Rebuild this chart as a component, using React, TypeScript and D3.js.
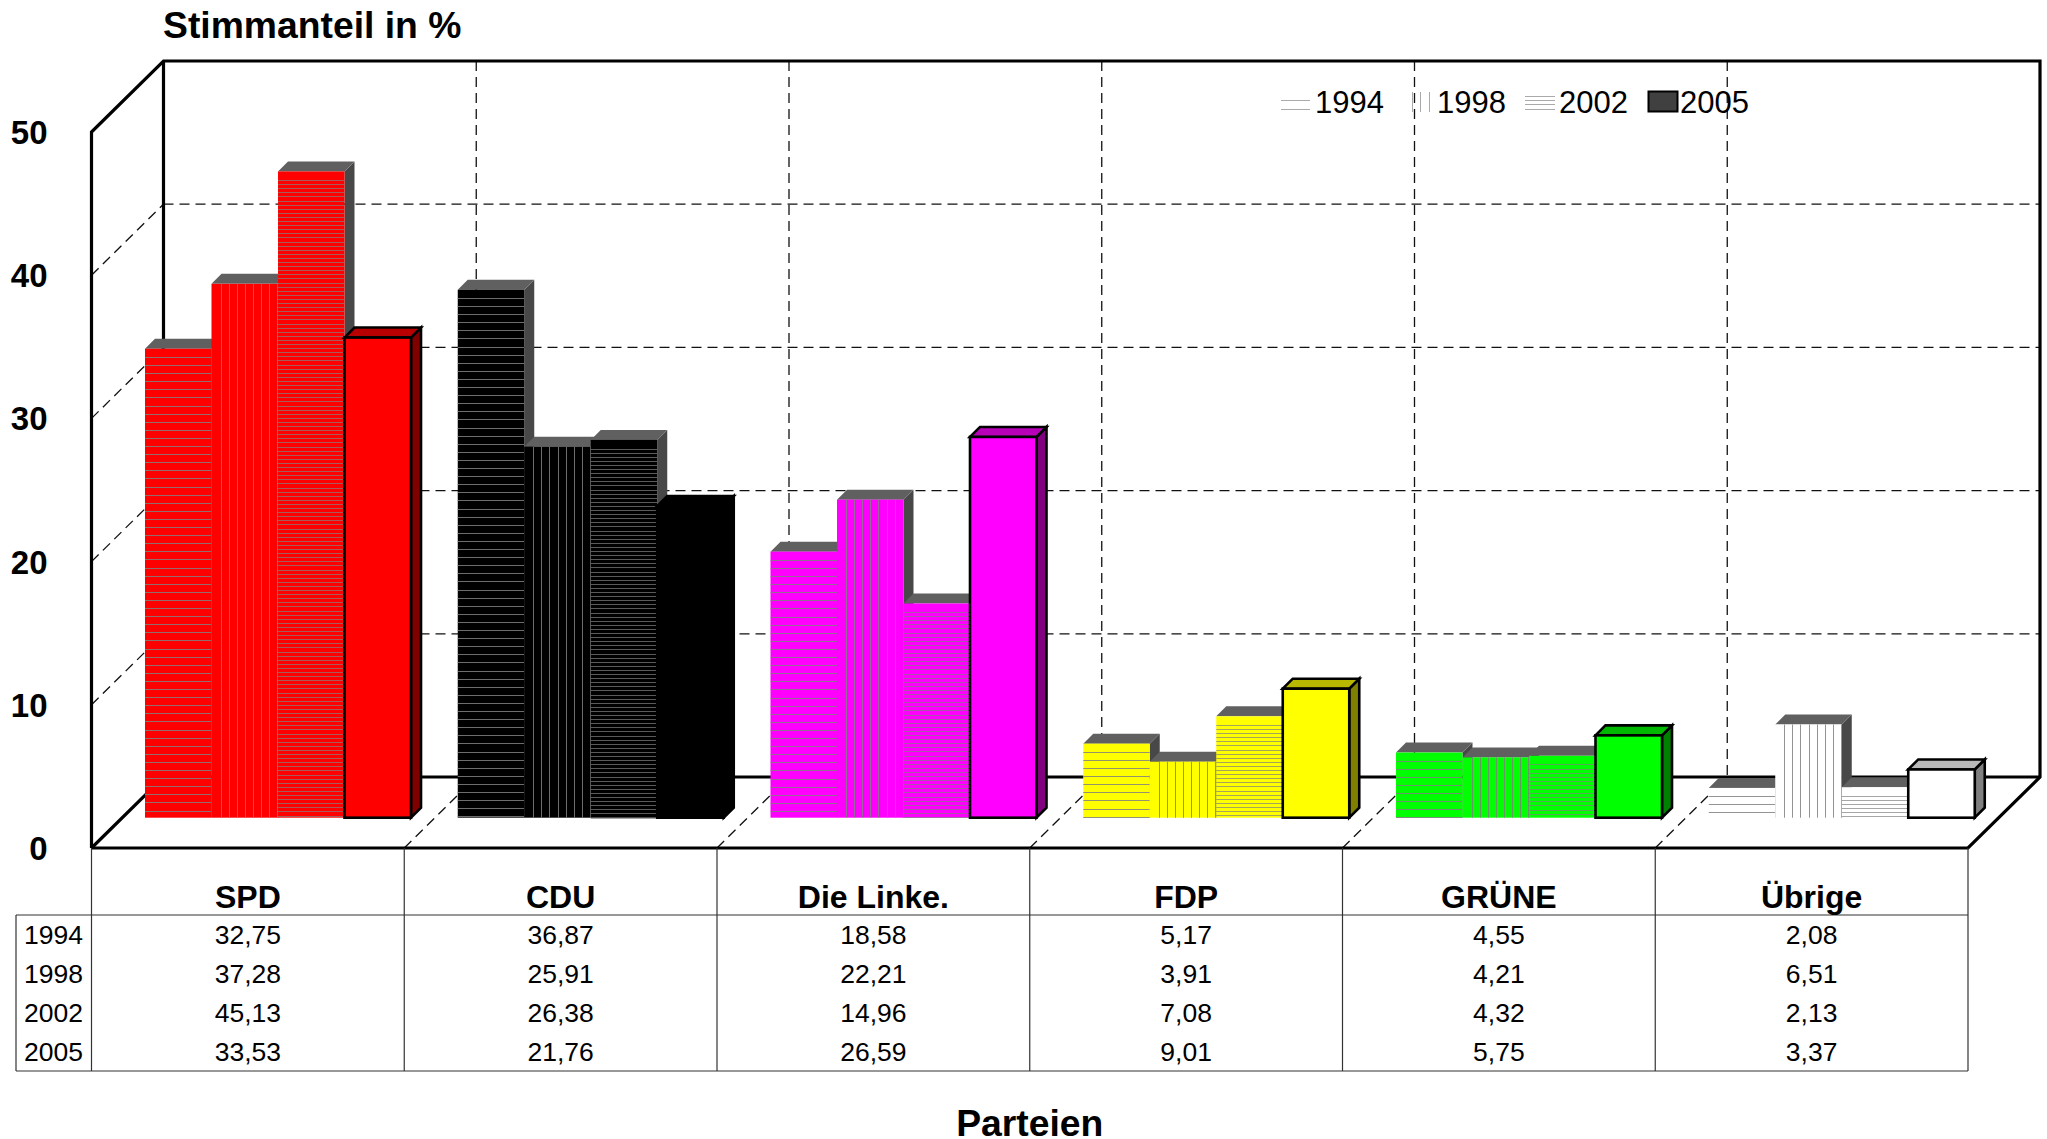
import React from "react";
import * as d3 from "d3";

const categories = ["SPD", "CDU", "Die Linke.", "FDP", "GRÜNE", "Übrige"];
const years = ["1994", "1998", "2002", "2005"];
const v1994 = [32.75, 36.87, 18.58, 5.17, 4.55, 2.08];
const v1998 = [37.28, 25.91, 22.21, 3.91, 4.21, 6.51];
const v2002 = [45.13, 26.38, 14.96, 7.08, 4.32, 2.13];
const v2005 = [33.53, 21.76, 26.59, 9.01, 5.75, 3.37];
const seriesValues = [v1994, v1998, v2002, v2005];
const partyColors = ["#ff0000", "#000000", "#ff00ff", "#ffff00", "#00ff00", "#ffffff"];
const yTicks = [0, 10, 20, 30, 40, 50];

const FONT = "'Liberation Sans', Arial, sans-serif";
const W = 2047, H = 1139;
const left = 91.5, right = 1968, front = 848, topFront = 132;
const depthX = 72, depthY = 71;
const barDepth = 10;
const floorOffset = 30.3;
const barW = 66.5;
const groupInset = 53.5;

const x = d3.scaleBand<string>().domain(categories).range([left, right]);
const y = d3.scaleLinear().domain([0, 50]).range([front, topFront]);
const h = (v: number) => front - y(v);
const baseY = front - floorOffset;

const fmt = (v: number) => v.toFixed(2).replace(".", ",");
const shade = (c: string, k: number) => {
  const r = d3.rgb(c);
  return d3.rgb(r.r * k, r.g * k, r.b * k).formatHex();
};
const pts = (p: number[][]) => p.map((q) => q.join(",")).join(" ");

function Bar({ cat, s, value, color }: { cat: number; s: number; value: number; color: string }) {
  const band = x(categories[cat])!;
  const x0 = band + groupInset + s * barW;
  const x1 = x0 + barW;
  const yt = baseY - h(value);
  const isSolid = s === 3;
  const topFill = isSolid ? shade(color, 0.72) : "#606060";
  const sideFill = isSolid ? shade(color, 0.5) : "#484848";
  const stroke = isSolid ? "#000" : "none";
  const sw = isSolid ? 2.6 : 0;
  const lineColor = "#808080";
  const lines: React.ReactNode[] = [];
  if (s === 0 || s === 2) {
    const step = s === 0 ? 8.1 : 4.1;
    d3.range(yt + (s === 0 ? 8.2 : 8.6), baseY, step).forEach((ly, i) =>
      lines.push(<line key={i} x1={x0} x2={x1} y1={Math.round(ly) + 0.5} y2={Math.round(ly) + 0.5} stroke={lineColor} strokeOpacity={s === 0 ? 0.85 : 0.7} strokeWidth={1} />)
    );
  }
  if (s === 1) {
    d3.range(x0 + 9, x1, 8.1).forEach((lx, i) =>
      lines.push(<line key={i} x1={Math.round(lx) + 0.5} x2={Math.round(lx) + 0.5} y1={yt} y2={baseY} stroke={lineColor} strokeOpacity={0.85} strokeWidth={1} />)
    );
  }
  return (
    <g strokeLinejoin="miter">
      <polygon points={pts([[x1, yt], [x1 + barDepth, yt - barDepth], [x1 + barDepth, baseY - barDepth], [x1, baseY]])} fill={sideFill} stroke={stroke} strokeWidth={sw} />
      <polygon points={pts([[x0, yt], [x0 + barDepth, yt - barDepth], [x1 + barDepth, yt - barDepth], [x1, yt]])} fill={topFill} stroke={stroke} strokeWidth={sw} />
      <rect x={x0} y={yt} width={barW} height={baseY - yt} fill={color} stroke={stroke} strokeWidth={sw} />
      {lines}
    </g>
  );
}

export default function App() {
  const boundaries = d3.range(0, categories.length + 1).map((i) => left + i * x.bandwidth());
  const backY = (v: number) => y(v) - depthY;
  const tableTop = 915, tableBottom = 1071, tableLeft = 16;
  const rowBase = [943.5, 982.5, 1022, 1061];
  return (
    <svg width={W} height={H} viewBox={`0 0 ${W} ${H}`} style={{ position: "absolute", left: 0, top: 0, background: "#fff", display: "block" }} fontFamily={FONT}>
      {/* gridlines */}
      <g stroke="#111" strokeWidth={1.3} strokeDasharray="10 6" fill="none">
        {yTicks.slice(1, -1).map((t) => (
          <g key={t}>
            <line x1={left + depthX} x2={right + depthX} y1={backY(t)} y2={backY(t)} />
            <line x1={left} y1={y(t)} x2={left + depthX} y2={backY(t)} />
          </g>
        ))}
        {boundaries.slice(1, -1).map((b) => (
          <g key={b}>
            <line x1={b + depthX} x2={b + depthX} y1={y(50) - depthY} y2={front - depthY} />
            <line x1={b} y1={front} x2={b + depthX} y2={front - depthY} />
          </g>
        ))}
      </g>
      {/* box */}
      <g stroke="#000" strokeWidth={3.2} fill="none">
        <polyline points={pts([[left, front], [left, topFront], [left + depthX, topFront - depthY], [right + depthX, topFront - depthY], [right + depthX, front - depthY], [right, front], [left, front]])} />
        <polyline points={pts([[left, front], [left + depthX, front - depthY], [right + depthX, front - depthY]])} />
        <line x1={left + depthX} x2={left + depthX} y1={topFront - depthY} y2={front - depthY} />
      </g>
      {/* bars */}
      {categories.map((c, ci) => (
        <g key={c}>
          {seriesValues.map((vals, si) => (
            <Bar key={si} cat={ci} s={si} value={vals[ci]} color={partyColors[ci]} />
          ))}
        </g>
      ))}
      {/* y ticks */}
      <g fontWeight={700} fontSize={33} textAnchor="end" fill="#000">
        {yTicks.map((t) => (
          <text key={t} x={47.5} y={y(t) + 12}>{t}</text>
        ))}
      </g>
      <text x={163} y={38} fontWeight={700} fontSize={37.3}>Stimmanteil in %</text>
      <text x={(left + right) / 2} y={1135.5} fontWeight={700} fontSize={37.3} textAnchor="middle">Parteien</text>
      {/* legend */}
      <g stroke="#aaa" strokeWidth={1}>
        {[100.5, 109.5].map((ly) => <line key={ly} x1={1281} x2={1310} y1={ly} y2={ly} />)}
        {[1412.5, 1420.5, 1429.5].map((lx) => <line key={lx} x1={lx} x2={lx} y1={92} y2={112} />)}
        {[96.5, 100.5, 104.5, 109.5].map((ly) => <line key={ly} x1={1525} x2={1555} y1={ly} y2={ly} />)}
      </g>
      <rect x={1648.5} y={91.5} width={29} height={20} fill="#404040" stroke="#000" strokeWidth={2} />
      <g fontSize={31} fill="#000">
        {years.map((yr, i) => (
          <text key={yr} x={[1315, 1437, 1559, 1680][i]} y={112.5}>{yr}</text>
        ))}
      </g>
      {/* table */}
      <g stroke="#333" strokeWidth={1.2} fill="none">
        {boundaries.map((b) => <line key={b} x1={b} x2={b} y1={front} y2={tableBottom} />)}
        <line x1={tableLeft} x2={right} y1={tableTop} y2={tableTop} />
        <line x1={tableLeft} x2={right} y1={tableBottom} y2={tableBottom} />
        <line x1={tableLeft} x2={tableLeft} y1={tableTop} y2={tableBottom} />
      </g>
      <g fontWeight={700} fontSize={32} textAnchor="middle" fill="#000">
        {categories.map((c) => (
          <text key={c} x={x(c)! + x.bandwidth() / 2} y={908}>{c}</text>
        ))}
      </g>
      <g fontSize={26.5} fill="#000">
        {years.map((yr, i) => (
          <text key={yr} x={83} y={rowBase[i]} textAnchor="end">{yr}</text>
        ))}
        {seriesValues.map((vals, si) =>
          vals.map((v, ci) => (
            <text key={`${si}-${ci}`} x={x(categories[ci])! + x.bandwidth() / 2} y={rowBase[si]} textAnchor="middle">{fmt(v)}</text>
          ))
        )}
      </g>
    </svg>
  );
}
